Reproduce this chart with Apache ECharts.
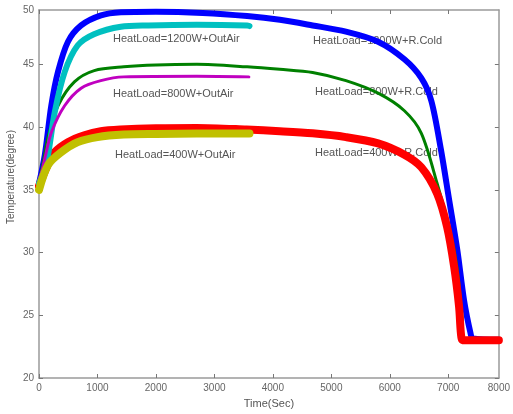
<!DOCTYPE html>
<html>
<head>
<meta charset="utf-8">
<script src="https://cdn.jsdelivr.net/npm/echarts@6/dist/echarts.min.js"></script>
<style>html,body{margin:0;padding:0;background:#fff}#c{width:513px;height:414px}</style>
</head>
<body>
<div id="c"></div>
<script>
// ---- data (time in seconds, temperature in degree) ----
var xTickValues = [0, 1000, 2000, 3000, 4000, 5000, 6000, 7000, 7866];
var xTickLabels = ['0', '1000', '2000', '3000', '4000', '5000', '6000', '7000', '8000'];
var yTickValues = [20, 25, 30, 35, 40, 45, 49.33];
var yTickLabels = ['20', '25', '30', '35', '40', '45', '50'];

var seriesNames = ['1200W+R.Cold', '800W+R.Cold', '400W+R.Cold', '1200W+OutAir', '800W+OutAir', '400W+OutAir'];

var blue1200Cold = [[0,35.5],[100,37.8],[210,41.7],[325,44.4],[495,46.8],[720,48.1],[1060,48.9],[1400,49.15],[2000,49.2],[2800,49.1],[3560,48.85],[4120,48.55],[4680,48.1],[5250,47.6],[5800,46.8],[6250,45.4],[6540,43.9],[6710,42.1],[6875,38.2],[7015,34.2],[7155,30.2],[7270,26.2],[7380,23.6],[7420,23.15],[7866,23.05]];
var green800Cold = [[0,35.5],[80,37.4],[160,39.3],[325,41.7],[605,43.6],[945,44.5],[1450,44.8],[2000,44.95],[2700,45.0],[3560,44.8],[4120,44.6],[4680,44.35],[5250,43.7],[5800,42.7],[6250,41.3],[6540,39.5],[6810,35.5],[7040,31.5],[7150,28.8],[7235,24.9],[7265,23.15],[7866,23.05]];
var red400Cold = [[0,35.3],[130,36.8],[270,38.0],[495,38.8],[776,39.35],[1057,39.67],[1394,39.8],[2000,39.9],[2700,39.93],[3550,39.8],[4120,39.67],[4680,39.5],[5250,39.2],[5800,38.7],[6250,37.8],[6540,36.8],[6810,34.7],[6980,32.05],[7100,28.9],[7185,25.7],[7212,23.8],[7235,23.05],[7280,23.0],[7866,23.0]];
var cyan1200Out = [[0,35.5],[130,37.2],[270,41.2],[440,44.4],[660,46.5],[940,47.4],[1400,48.0],[1870,48.1],[2700,48.15],[3560,48.1],[3600,48.05]];
var magenta800Out = [[0,35.5],[100,37.5],[214,39.6],[438,41.7],[720,43.1],[1057,43.7],[1450,44.0],[2700,44.05],[3590,44.0]];
var yellow400Out = [[0,35.0],[157,37.0],[382,38.0],[663,38.8],[1000,39.2],[1450,39.4],[2000,39.45],[2700,39.48],[3600,39.48]];

var annotations = ['HeatLoad=1200W+OutAir', 'HeatLoad=800W+OutAir', 'HeatLoad=400W+OutAir',
                   'HeatLoad=1200W+R.Cold', 'HeatLoad=800W+R.Cold', 'HeatLoad=400W+R.Cold'];

// ---- chart ----
var chart = echarts.init(document.getElementById('c'), null, {renderer: 'canvas'});
var font = 'Liberation Sans, Arial, sans-serif';
var axisLineStyle = {color: '#9a9a9a', width: 1.5};

function lbl(values, labels) {
  return function (v) {
    for (var i = 0; i < values.length; i++) if (Math.abs(values[i] - v) < 1e-6) return labels[i];
    return '';
  };
}

function line(name, data, color, width) {
  return {
    name: name, type: 'line', data: data, showSymbol: false, symbol: 'none',
    smooth: 0.3, clip: false, xAxisIndex: 0, yAxisIndex: 0,
    lineStyle: {color: color, width: width, cap: 'round', join: 'round'}
  };
}

var annPos = [[113, 39], [113, 94], [115, 155], [313, 41], [315, 92], [315, 153]];

var graphics = annotations.map(function (t, i) {
  return {type: 'text', x: annPos[i][0], y: annPos[i][1], z: 0, silent: true,
    style: {text: t, fill: '#555', font: '11px ' + font, textVerticalAlign: 'middle'}};
});
graphics.push({type: 'text', x: 11, y: 177, rotation: Math.PI / 2, z: 0, silent: true,
  style: {text: 'Temperature(degree)', fill: '#555', font: '10px ' + font,
    textAlign: 'center', textVerticalAlign: 'middle'}});

var xMax = xTickValues[xTickValues.length - 1];
var yMax = yTickValues[yTickValues.length - 1];

chart.setOption({
  animation: false,
  backgroundColor: '#fff',
  grid: {left: 39, right: 7.3, top: 10, bottom: 36},
  xAxis: [{
    type: 'value', min: 0, max: xMax, position: 'bottom',
    name: 'Time(Sec)', nameLocation: 'middle', nameGap: 20,
    nameTextStyle: {color: '#555', fontSize: 11, fontFamily: font},
    axisLine: {show: true, onZero: false, lineStyle: axisLineStyle},
    axisTick: {show: true, inside: true, length: 4, lineStyle: {color: '#777'}, customValues: xTickValues.slice(0, -1)},
    axisLabel: {color: '#666', fontSize: 10, fontFamily: font, margin: 5,
      customValues: xTickValues, formatter: lbl(xTickValues, xTickLabels)},
    splitLine: {show: false}
  }, {
    type: 'value', min: 0, max: xMax, position: 'top',
    axisLine: {show: true, onZero: false, lineStyle: axisLineStyle},
    axisTick: {show: true, inside: true, length: 4, lineStyle: {color: '#777'}, customValues: xTickValues.slice(0, -1)},
    axisLabel: {show: false}, splitLine: {show: false}
  }],
  yAxis: [{
    type: 'value', min: 20, max: yMax, position: 'left',
    axisLine: {show: true, onZero: false, lineStyle: axisLineStyle},
    axisTick: {show: true, inside: true, length: 4, lineStyle: {color: '#777'}, customValues: yTickValues.slice(0, -1)},
    axisLabel: {color: '#666', fontSize: 10, fontFamily: font, margin: 5,
      customValues: yTickValues, formatter: lbl(yTickValues, yTickLabels)},
    splitLine: {show: false}
  }, {
    type: 'value', min: 20, max: yMax, position: 'right',
    axisLine: {show: true, onZero: false, lineStyle: axisLineStyle},
    axisTick: {show: true, inside: true, length: 4, lineStyle: {color: '#777'}, customValues: yTickValues.slice(0, -1)},
    axisLabel: {show: false}, splitLine: {show: false}
  }],
  graphic: graphics,
  series: [
    line(seriesNames[0], blue1200Cold, '#0000ff', 6),
    line(seriesNames[1], green800Cold, '#008000', 3),
    line(seriesNames[2], red400Cold, '#ff0000', 8),
    line(seriesNames[3], cyan1200Out, '#00c0c0', 6),
    line(seriesNames[4], magenta800Out, '#c000c0', 3),
    line(seriesNames[5], yellow400Out, '#c0c000', 8)
  ]
});
</script>
</body>
</html>
